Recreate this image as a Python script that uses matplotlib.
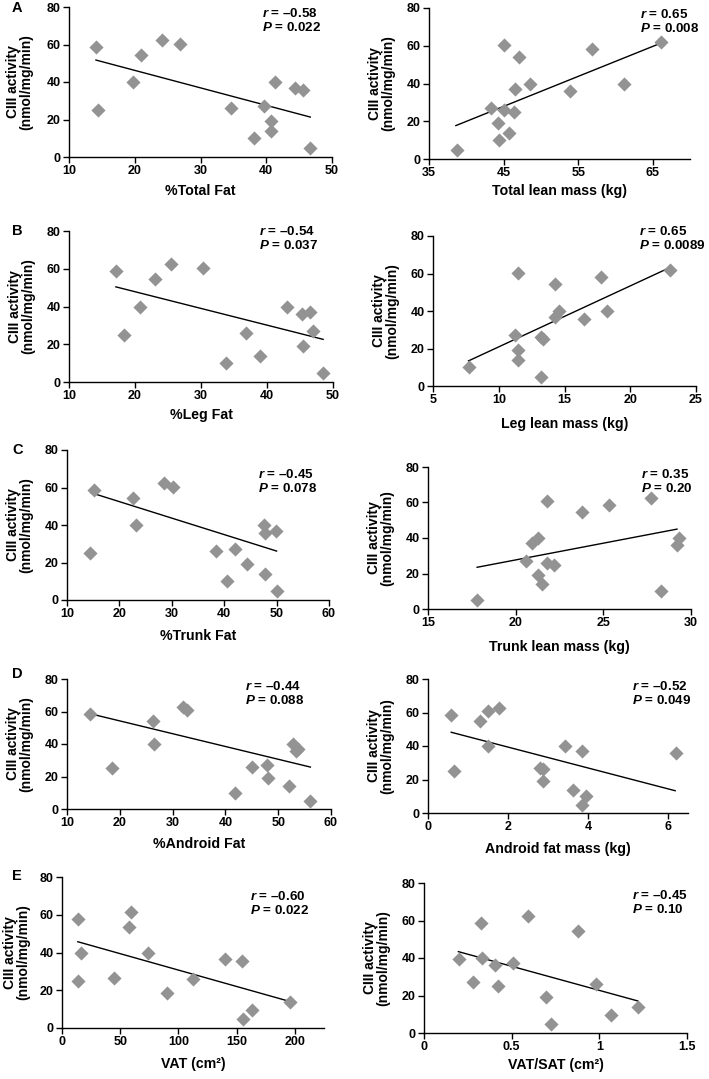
import numpy as np
import matplotlib
matplotlib.use("Agg")
import matplotlib.pyplot as plt

plt.rcParams['font.family'] = ['Liberation Sans', 'DejaVu Sans']
plt.rcParams['font.weight'] = 'bold'
plt.rcParams['mathtext.fontset'] = 'custom'
plt.rcParams['mathtext.it'] = 'Liberation Sans:italic:bold'
plt.rcParams['mathtext.rm'] = 'Liberation Sans:bold'

# CIII activity vs body composition, one entry per panel
total_fat_x = [14.1, 14.4, 19.8, 21.0, 24.2, 26.9, 34.6, 38.2, 39.7, 40.7, 40.7, 41.4, 44.4, 45.6, 46.6]
total_fat_y = [58.5, 25, 40, 54.4, 62.4, 60.3, 26, 10, 27, 19, 14, 40, 37, 36, 5]

total_lean_x = [38.8, 43.3, 44.3, 44.4, 45.7, 45.1, 45.0, 46.4, 46.5, 47.1, 48.5, 53.9, 56.8, 61.2, 66.1]
total_lean_y = [5, 27, 19, 10, 14, 60.5, 26, 25, 37, 54, 40, 36, 58.4, 40, 62.2]

leg_fat_x = [17.1, 18.4, 20.8, 23.1, 25.5, 30.3, 33.8, 36.8, 39.0, 43.1, 45.3, 45.4, 46.5, 46.9, 48.5]
leg_fat_y = [58.7, 25, 40, 54.4, 62.4, 60.4, 10, 26, 14, 40, 36, 19, 37, 27, 5]

leg_lean_x = [7.73, 11.2, 11.45, 11.45, 11.5, 13.2, 13.2, 13.4, 14.3, 14.3, 14.6, 16.5, 17.8, 18.2, 23.05]
leg_lean_y = [10, 27, 19, 14, 60.2, 5, 26, 25, 54.4, 37, 40, 36, 58.3, 40, 61.9]

trunk_fat_x = [14.4, 15.1, 22.5, 23.2, 28.6, 30.2, 38.4, 40.5, 42.0, 44.3, 47.6, 47.75, 47.75, 49.8, 50.0]
trunk_fat_y = [25, 58.7, 54.6, 40, 62.5, 60.1, 26, 10, 27, 19, 40, 36, 14, 37, 5]

trunk_lean_x = [17.8, 20.6, 20.96, 21.25, 21.3, 21.5, 21.8, 21.8, 22.2, 23.8, 25.3, 27.7, 28.3, 29.2, 29.3]
trunk_lean_y = [5, 27, 37, 19, 40, 14, 60.6, 26, 25, 54.6, 58.8, 62.5, 10, 36, 40]

android_pct_x = [14.3, 18.5, 26.2, 26.5, 31.9, 32.7, 41.9, 45.0, 47.9, 48.0, 52.1, 52.8, 53.4, 53.7, 56.1]
android_pct_y = [58.3, 25, 54.2, 40, 62.6, 60.7, 10, 26, 27, 19, 14, 40, 36, 37, 5]

android_kg_x = [0.58, 0.66, 1.30, 1.51, 1.51, 1.78, 2.80, 2.88, 2.87, 3.43, 3.63, 3.85, 3.85, 3.96, 6.2]
android_kg_y = [58.3, 25, 54.7, 60.7, 40, 62.7, 27, 26, 19, 40, 14, 37, 5, 10, 36]

vat_x = [13.6, 16.5, 13.6, 44.9, 57.7, 59.4, 73.9, 90.4, 112.8, 139.7, 154.8, 155.1, 162.9, 195.4]
vat_y = [57.6, 39.5, 24.8, 26.7, 53.6, 61.5, 39.5, 18.8, 26, 36.4, 35.7, 4.9, 9.7, 13.7]

vat_sat_x = [0.20, 0.28, 0.325, 0.33, 0.405, 0.42, 0.505, 0.595, 0.696, 0.724, 0.876, 0.98, 1.065, 1.219]
vat_sat_y = [39.5, 27.3, 58.6, 40.2, 36.3, 25, 37.5, 62.5, 19.3, 5, 54.5, 26.4, 9.8, 13.9]

# regression lines as drawn in the figure: (x0, y0, x1, y1)
trend_lines = [(14.1, 51.7, 46.7, 21.3), (38.6, 17.7, 66.1, 61.4),
               (17.1, 50.4, 48.5, 22.6), (7.7, 13.4, 23.05, 63.3),
               (14.6, 57.2, 50.0, 26.1), (17.8, 23.5, 29.2, 45.0),
               (14.3, 58.7, 56.1, 25.8), (0.58, 48.2, 6.18, 13.3),
               (13.6, 45.7, 195.4, 14.1), (0.196, 43.4, 1.219, 17.1)]

xlabels = ['%Total Fat', 'Total lean mass (kg)', '%Leg Fat', 'Leg lean mass (kg)',
           '%Trunk Fat', 'Trunk lean mass (kg)', '%Android Fat', 'Android fat mass (kg)',
           'VAT (cm\u00b2)', 'VAT/SAT (cm\u00b2)']
r_values = ['\u20130.58', '0.65', '\u20130.54', '0.65', '\u20130.45', '0.35',
            '\u20130.44', '\u20130.52', '\u20130.60', '\u20130.45']
p_values = ['0.022', '0.008', '0.037', '0.0089', '0.078', '0.20',
            '0.088', '0.049', '0.022', '0.10']
xlims = [(10, 50), (35, 70), (10, 50), (5, 25), (10, 60), (15, 30),
         (10, 60), (0, 6.5), (0, 225), (0, 1.5)]
xticks = [[10, 20, 30, 40, 50], [35, 45, 55, 65], [10, 20, 30, 40, 50], [5, 10, 15, 20, 25],
          [10, 20, 30, 40, 50, 60], [15, 20, 25, 30], [10, 20, 30, 40, 50, 60],
          [0, 2, 4, 6], [0, 50, 100, 150, 200], [0, 0.5, 1, 1.5]]
xtick_labels = [None] * 9 + [['0', '0.5', '1', '1.5']]
letters = ['A', None, 'B', None, 'C', None, 'D', None, 'E', None]

xs = [total_fat_x, total_lean_x, leg_fat_x, leg_lean_x, trunk_fat_x,
      trunk_lean_x, android_pct_x, android_kg_x, vat_x, vat_sat_x]
ys = [total_fat_y, total_lean_y, leg_fat_y, leg_lean_y, trunk_fat_y,
      trunk_lean_y, android_pct_y, android_kg_y, vat_y, vat_sat_y]

# layout in pixels: left, top, right, bottom of each plot area
W, H = 709, 1079
rects = [(69, 7, 332, 157), (429, 8, 690, 159),
         (69, 231, 333, 382), (433, 236, 696, 386),
         (67, 450, 329, 600), (428, 467, 691, 609),
         (67, 679, 331, 809), (428, 679, 688, 813),
         (62, 877, 324, 1028), (424, 883, 687, 1033)]
xlab_gap = [27, 25, 26, 31, 29, 31, 28, 29, 29, 25]
ylab_gap = [36, 34, 34, 34, 34, 34, 34, 34, 32, 34]
ann_pos = [(0.734, 1.0), (0.808, 1.0), (0.72, 1.04), (0.785, 1.073), (0.73, 0.88),
           (0.81, 0.99), (0.674, 0.99), (0.785, 0.99), (0.718, 0.914), (0.79, 0.96)]
letter_top = [8, None, 231, None, 450, None, 674, None, 876, None]

fig = plt.figure(figsize=(W / 100, H / 100), dpi=100)

for i in range(10):
    l, t, r, b = rects[i]
    ax = fig.add_axes([l / W, 1 - b / H, (r - l) / W, (b - t) / H])
    ax.scatter(xs[i], ys[i], marker='D', s=52, color='#939393', linewidths=0, zorder=3)

    x0, y0, x1, y1 = trend_lines[i]
    ax.plot([x0, x1], [y0, y1], color='black', linewidth=1.0, zorder=2)

    ax.set_xlim(*xlims[i])
    ax.set_ylim(0, 80)
    ax.set_xticks(xticks[i])
    if xtick_labels[i] is not None:
        ax.set_xticklabels(xtick_labels[i])
    ax.set_yticks([0, 20, 40, 60, 80])
    for s in ['top', 'right']:
        ax.spines[s].set_visible(False)
    for s in ['left', 'bottom']:
        ax.spines[s].set_linewidth(1.0)
    ax.tick_params(axis='both', direction='out', length=4, width=1.0,
                   labelsize=9, pad=2)
    for lab in ax.get_xticklabels() + ax.get_yticklabels():
        lab.set_fontweight('bold')

    ax.set_xlabel(xlabels[i], fontsize=10.2, fontweight='bold', va='top')
    ax.xaxis.set_label_coords(0.5, -xlab_gap[i] / (b - t))
    ax.set_ylabel('CIII activity\n(nmol/mg/min)', fontsize=10, fontweight='bold',
                  linespacing=0.95)
    ax.yaxis.set_label_coords(-ylab_gap[i] / (r - l), 0.5)

    ax.text(ann_pos[i][0], ann_pos[i][1],
            '$r$ = ' + r_values[i] + '\n$P$ = ' + p_values[i],
            transform=ax.transAxes, ha='left', va='top', fontsize=9.6,
            fontweight='bold', linespacing=1.1)

    if letters[i] is not None:
        fig.text(12 / W, 1 - letter_top[i] / H, letters[i], fontsize=10.5,
                 fontweight='bold', ha='left', va='center')

fig.savefig('out.png', dpi=100)
